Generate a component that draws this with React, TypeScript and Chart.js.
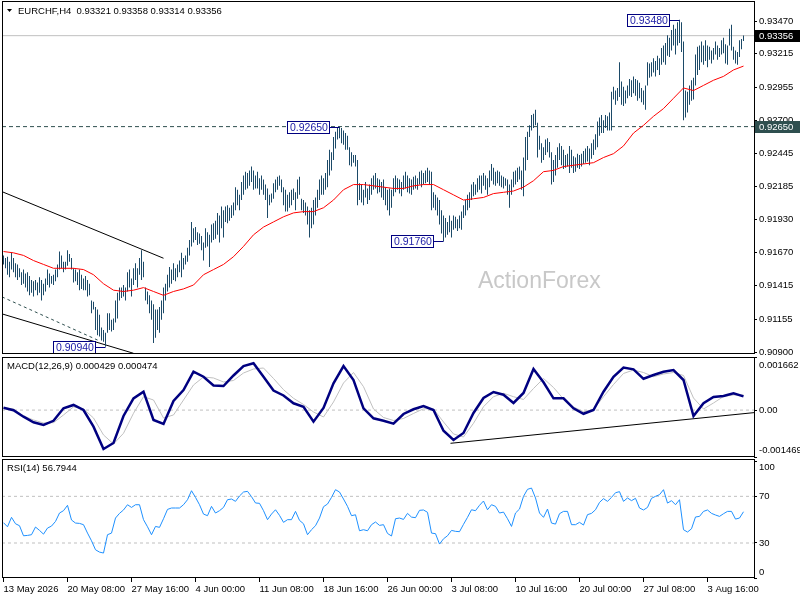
import React, { useEffect, useRef } from 'react';
import { Chart, registerables } from 'chart.js';

Chart.register(...registerables);

const FONT = '"Liberation Sans", Arial, sans-serif';

// ---------------- data ----------------
const SYMBOL = 'EURCHF,H4';
const LAST_BAR = ['0.93321', '0.93358', '0.93314', '0.93356'];
const X_LABELS = ['13 May 2026', '20 May 08:00', '27 May 16:00', '4 Jun 00:00', '11 Jun 08:00', '18 Jun 16:00',
  '26 Jun 00:00', '3 Jul 08:00', '10 Jul 16:00', '20 Jul 00:00', '27 Jul 08:00', '3 Aug 16:00'];
const BARS_PER_LABEL = 32;
const PRICE_TICKS = [0.909, 0.91155, 0.91415, 0.9167, 0.9193, 0.92185, 0.92445, 0.927, 0.92955, 0.93215, 0.9347];

const HIGH = [
  0.9165, 0.9163, 0.9164, 0.9160, 0.9167, 0.9163, 0.9159, 0.9158, 0.9155, 0.9152,
  0.9154, 0.9151, 0.9152, 0.9149, 0.9146, 0.9145, 0.9146, 0.9144, 0.9148, 0.9146,
  0.9143, 0.9147, 0.9154, 0.9151, 0.9149, 0.9150, 0.9154, 0.9158, 0.9168, 0.9165,
  0.9160, 0.9160, 0.9169, 0.9166, 0.9163, 0.9155, 0.9154, 0.9152, 0.9154, 0.9150,
  0.9147, 0.9149, 0.9146, 0.9143, 0.9130, 0.9129, 0.9125, 0.9123, 0.9119, 0.9109,
  0.9107, 0.9105, 0.9120, 0.9120, 0.9115, 0.9116, 0.9130, 0.9136, 0.9140, 0.9140,
  0.9142, 0.9140, 0.9152, 0.9154, 0.9147, 0.9155, 0.9159, 0.9155, 0.9163, 0.9169,
  0.9160, 0.9140, 0.9137, 0.9134, 0.9130, 0.9127, 0.9123, 0.9123, 0.9125, 0.9130,
  0.9140, 0.9143, 0.9150, 0.9156, 0.9154, 0.9159, 0.9155, 0.9158, 0.9161, 0.9167,
  0.9163, 0.9165, 0.9171, 0.9177, 0.9191, 0.9186, 0.9187, 0.9183, 0.9182, 0.9180,
  0.9175, 0.9186, 0.9183, 0.9181, 0.9189, 0.9190, 0.9192, 0.9198, 0.9196, 0.9203,
  0.9200, 0.9203, 0.9204, 0.9202, 0.9204, 0.9206, 0.9218, 0.9216, 0.9212, 0.9222,
  0.9227, 0.9230, 0.9229, 0.9231, 0.9234, 0.9231, 0.9227, 0.9230, 0.9225, 0.9227,
  0.9224, 0.9220, 0.9217, 0.9212, 0.9213, 0.9221, 0.9224, 0.9226, 0.9227, 0.9224,
  0.9218, 0.9216, 0.9212, 0.9214, 0.9216, 0.9217, 0.9214, 0.9224, 0.9226, 0.9209,
  0.9208, 0.9206, 0.9203, 0.9200, 0.9202, 0.9208, 0.9210, 0.9216, 0.9224, 0.9227,
  0.9225, 0.9229, 0.9239, 0.9247, 0.9245, 0.9257, 0.9261, 0.9264, 0.9265, 0.9264,
  0.9262, 0.9260, 0.9258, 0.9249, 0.9245, 0.9243, 0.9243, 0.9239, 0.9221, 0.9220,
  0.9216, 0.9222, 0.9217, 0.9220, 0.9225, 0.9227, 0.9229, 0.9225, 0.9224, 0.9222,
  0.9224, 0.9218, 0.9216, 0.9217, 0.9216, 0.9225, 0.9227, 0.9225, 0.9224, 0.9222,
  0.9227, 0.9230, 0.9227, 0.9225, 0.9224, 0.9226, 0.9227, 0.9225, 0.9230, 0.9231,
  0.9229, 0.9231, 0.9233, 0.9231, 0.9230, 0.9214, 0.9212, 0.9210, 0.9208, 0.9200,
  0.9196, 0.9194, 0.9191, 0.9196, 0.9192, 0.9196, 0.9195, 0.9193, 0.9196, 0.9199,
  0.9204, 0.9208, 0.9212, 0.9214, 0.9220, 0.9222, 0.9220, 0.9225, 0.9227, 0.9227,
  0.9229, 0.9227, 0.9225, 0.9231, 0.9236, 0.9233, 0.9230, 0.9231, 0.9230, 0.9227,
  0.9226, 0.9225, 0.9224, 0.9220, 0.9224, 0.9230, 0.9231, 0.9233, 0.9234, 0.9231,
  0.9241, 0.9257, 0.9261, 0.9266, 0.9274, 0.9275, 0.9278, 0.9268, 0.9258, 0.9252,
  0.9249, 0.9255, 0.9256, 0.9253, 0.9245, 0.9239, 0.9243, 0.9249, 0.9252, 0.9250,
  0.9247, 0.9243, 0.9244, 0.9250, 0.9247, 0.9242, 0.9241, 0.9244, 0.9243, 0.9244,
  0.9246, 0.9248, 0.9250, 0.9248, 0.9252, 0.9255, 0.9259, 0.9269, 0.9272, 0.9274,
  0.9270, 0.9274, 0.9273, 0.9276, 0.9292, 0.9296, 0.9293, 0.9295, 0.9315, 0.9300,
  0.9296, 0.9293, 0.9297, 0.9302, 0.9301, 0.9304, 0.9302, 0.9301, 0.9299, 0.9295,
  0.9293, 0.9297, 0.9315, 0.9314, 0.9315, 0.9318, 0.9316, 0.9320, 0.9318, 0.9326,
  0.9328, 0.9330, 0.9336, 0.9334, 0.9340, 0.9344, 0.9341, 0.9346, 0.9348, 0.9346,
  0.9331, 0.9293, 0.9292, 0.9297, 0.9301, 0.9303, 0.9321, 0.9327, 0.9328, 0.9331,
  0.9328, 0.9332, 0.9328, 0.9327, 0.9324, 0.9326, 0.9331, 0.9328, 0.9326, 0.9332,
  0.9334, 0.9329, 0.9328, 0.9341, 0.9344, 0.9327, 0.9324, 0.9323, 0.9332, 0.9333,
  0.93358,
];

const LOW = [
  0.9158, 0.9155, 0.9150, 0.9148, 0.9154, 0.9152, 0.9148, 0.9146, 0.9148, 0.9142,
  0.9143, 0.9140, 0.9137, 0.9134, 0.9136, 0.9133, 0.9138, 0.9134, 0.9136, 0.9130,
  0.9134, 0.9137, 0.9142, 0.9140, 0.9143, 0.9142, 0.9145, 0.9148, 0.9154, 0.9155,
  0.9152, 0.9154, 0.9157, 0.9160, 0.9154, 0.9144, 0.9145, 0.9142, 0.9138, 0.9139,
  0.9138, 0.9138, 0.9133, 0.9134, 0.9120, 0.9123, 0.9107, 0.9103, 0.9102, 0.9099,
  0.9098, 0.9094, 0.9105, 0.9107, 0.9106, 0.9107, 0.9113, 0.9116, 0.9130, 0.9132,
  0.9133, 0.9130, 0.9137, 0.9140, 0.9133, 0.9142, 0.9146, 0.9140, 0.9150, 0.9146,
  0.9148, 0.9130, 0.9127, 0.9120, 0.9115, 0.9097, 0.9101, 0.9107, 0.9105, 0.9115,
  0.9120, 0.9130, 0.9137, 0.9140, 0.9143, 0.9146, 0.9145, 0.9148, 0.9152, 0.9148,
  0.9154, 0.9158, 0.9160, 0.9165, 0.9172, 0.9175, 0.9177, 0.9173, 0.9174, 0.9169,
  0.9161, 0.9171, 0.9172, 0.9156, 0.9175, 0.9177, 0.9178, 0.9181, 0.9175, 0.9186,
  0.9179, 0.9191, 0.9190, 0.9192, 0.9194, 0.9196, 0.9200, 0.9204, 0.9200, 0.9208,
  0.9212, 0.9216, 0.9217, 0.9219, 0.9222, 0.9216, 0.9217, 0.9217, 0.9212, 0.9216,
  0.9212, 0.9208, 0.9194, 0.9204, 0.9206, 0.9209, 0.9214, 0.9216, 0.9219, 0.9214,
  0.9204, 0.9199, 0.9199, 0.9202, 0.9204, 0.9208, 0.9200, 0.9209, 0.9212, 0.9200,
  0.9198, 0.9196, 0.9189, 0.9179, 0.9186, 0.9189, 0.9196, 0.9202, 0.9208, 0.9212,
  0.9212, 0.9216, 0.9218, 0.9227, 0.9231, 0.9239, 0.9248, 0.9255, 0.9256, 0.9252,
  0.9251, 0.9247, 0.9247, 0.9235, 0.9234, 0.9237, 0.9234, 0.9204, 0.9208, 0.9206,
  0.9204, 0.9210, 0.9205, 0.9208, 0.9212, 0.9216, 0.9217, 0.9213, 0.9214, 0.9210,
  0.9208, 0.9204, 0.9200, 0.9196, 0.9202, 0.9211, 0.9214, 0.9216, 0.9213, 0.9211,
  0.9216, 0.9217, 0.9214, 0.9213, 0.9212, 0.9216, 0.9217, 0.9216, 0.9220, 0.9218,
  0.9220, 0.9221, 0.9222, 0.9220, 0.9200, 0.9202, 0.9200, 0.9196, 0.9189, 0.9182,
  0.9176, 0.9179, 0.9181, 0.9183, 0.9179, 0.9185, 0.9186, 0.9184, 0.9186, 0.9185,
  0.9194, 0.9196, 0.9200, 0.9202, 0.9208, 0.9211, 0.9212, 0.9214, 0.9216, 0.9213,
  0.9219, 0.9216, 0.9212, 0.9218, 0.9223, 0.9220, 0.9219, 0.9221, 0.9219, 0.9218,
  0.9217, 0.9219, 0.9212, 0.9202, 0.9212, 0.9218, 0.9220, 0.9222, 0.9224, 0.9216,
  0.9211, 0.9231, 0.9239, 0.9257, 0.9262, 0.9264, 0.9266, 0.9241, 0.9247, 0.9237,
  0.9239, 0.9243, 0.9245, 0.9241, 0.9220, 0.9222, 0.9227, 0.9233, 0.9239, 0.9235,
  0.9232, 0.9233, 0.9234, 0.9229, 0.9233, 0.9229, 0.9230, 0.9233, 0.9232, 0.9234,
  0.9236, 0.9237, 0.9238, 0.9235, 0.9240, 0.9243, 0.9247, 0.9249, 0.9258, 0.9260,
  0.9260, 0.9264, 0.9262, 0.9262, 0.9262, 0.9286, 0.9282, 0.9285, 0.9288, 0.9282,
  0.9281, 0.9283, 0.9287, 0.9289, 0.9288, 0.9291, 0.9289, 0.9285, 0.9287, 0.9284,
  0.9282, 0.9278, 0.9297, 0.9303, 0.9304, 0.9307, 0.9304, 0.9309, 0.9305, 0.9313,
  0.9315, 0.9313, 0.9320, 0.9319, 0.9324, 0.9328, 0.9321, 0.9328, 0.9330, 0.9323,
  0.9270, 0.9272, 0.9276, 0.9282, 0.9285, 0.9286, 0.9297, 0.9305, 0.9309, 0.9315,
  0.9313, 0.9316, 0.9311, 0.9317, 0.9314, 0.9317, 0.9321, 0.9317, 0.9319, 0.9321,
  0.9322, 0.9314, 0.9313, 0.9328, 0.9324, 0.9317, 0.9314, 0.9313, 0.9319, 0.9325,
  0.93314,
];

const MA_STEP = 5;
const MA = [
  0.9168, 0.9167, 0.9165, 0.9161, 0.9158, 0.9155, 0.9155, 0.9155, 0.9154, 0.9150,
  0.9143, 0.9138, 0.9137, 0.9138, 0.9140, 0.9137, 0.9134, 0.9137, 0.9139, 0.9142,
  0.9150, 0.9154, 0.9158, 0.9164, 0.9172, 0.9181, 0.9187, 0.9191, 0.9195, 0.9198,
  0.9199, 0.9199, 0.9202, 0.9208, 0.9216, 0.9220, 0.9220, 0.9219, 0.9218, 0.9217,
  0.9217, 0.9219, 0.9220, 0.9220, 0.9216, 0.9212, 0.9208, 0.9209, 0.9210, 0.9213,
  0.9214, 0.9215, 0.9218, 0.9223, 0.9230, 0.9231, 0.9234, 0.9235, 0.9236, 0.9237,
  0.9241, 0.9244, 0.9250, 0.9260, 0.9266, 0.9273, 0.9279, 0.9287, 0.9295, 0.9293,
  0.9297, 0.9301, 0.9304, 0.9309, 0.9312,
];

const CURRENT_PRICE = 0.93356;
const RESISTANCE = 0.9265;
const PRICE_LABELS = [
  { bar: 338, price: 0.9348 },
  { bar: 168, price: 0.9265 },
  { bar: 220, price: 0.9176 },
  { bar: 51, price: 0.9094 },
];
const TREND_UPPER = [[-0.75, 0.92145], [80, 0.91628]];
const TREND_LOWER = [[-0.75, 0.91196], [65, 0.9089]];
const TREND_DASHED = [[-0.75, 0.91328], [47, 0.90993]];

const MACD_STEP = 5;
const MACD = [
  0.000075, -0.000006, -0.000207, -0.000382, -0.000466, -0.000335, 0.000056, 0.00016, 0.000003, -0.00052,
  -0.001218, -0.00103, -0.000185, 0.000363, 0.000576, -0.00031, -0.000435, 0.000285, 0.000629, 0.001202,
  0.001045, 0.00077, 0.000754, 0.001083, 0.00138, 0.001465, 0.001045, 0.000613, 0.000457, 0.000213,
  0.000106, -0.000363, 0.000066, 0.000839, 0.00138, 0.000942, 0.000056, -0.000257, -0.000332, -0.000426,
  -0.000122, 0.000025, 0.000128, 0.000003, -0.000645, -0.000936, -0.000717, -0.000091, 0.000379, 0.000567,
  0.000482, 0.000222, 0.000535, 0.001286, 0.00087, 0.000369, 0.000369, 0.000056, -0.000116, 0.000003,
  0.000576, 0.001045, 0.001333, 0.001277, 0.00098, 0.001099, 0.001202, 0.001255, 0.000942, -0.000185,
  0.000213, 0.00041, 0.000441, 0.000526, 0.000429,
];
const MACD_SIGNAL = [
  0.000075, 0.000034, -0.000185, -0.00031, -0.000404, -0.000394, -0.000153, 0.0001, 0.000034, -0.000247,
  -0.000779, -0.001061, -0.000726, -0.0001, 0.000419, 0.000316, -0.000247, -0.000153, 0.000316, 0.000786,
  0.001036, 0.001005, 0.00088, 0.000926, 0.001161, 0.001286, 0.001318, 0.000989, 0.000639, 0.000369,
  0.000175, -0.000059, -0.000216, 0.000254, 0.000848, 0.001177, 0.000732, 0.000034, -0.000232, -0.000326,
  -0.000263, -0.000106, 0.000041, 0.000034, -0.000372, -0.000748, -0.000842, -0.000413, 0.000106, 0.000419,
  0.000526, 0.000419, 0.000332, 0.000676, 0.000989, 0.000707, 0.000347, 0.000097, -0.00005, 0.000019,
  0.000419, 0.000801, 0.001146, 0.001255, 0.001177, 0.001045, 0.00113, 0.001177, 0.001083, 0.000379,
  0.000034, 0.000222, 0.000426, 0.000473, 0.000474,
];
const MACD_TICKS = [-0.001469, 0, 0.001662];
const MACD_TREND = [[223.5, -0.00104], [375.25, -0.00008]];

const RSI_STEP = 2;
const RSI = [
  47.4, 43.9, 52.0, 46.5, 44.8, 36.2, 36.5, 37.1, 43.7, 40.8,
  37.6, 42.8, 44.5, 48.5, 55.7, 57.7, 62.3, 49.7, 47.1, 46.8,
  45.7, 38.5, 31.9, 24.2, 22.2, 21.4, 37.1, 38.5, 51.4, 55.4,
  58.3, 62.8, 60.5, 62.8, 62.8, 50.0, 43.9, 37.1, 44.2, 43.4,
  50.8, 58.8, 60.0, 60.0, 60.0, 62.8, 67.1, 74.8, 69.1, 62.8,
  54.8, 53.4, 61.4, 55.7, 57.7, 60.5, 67.1, 67.7, 65.7, 70.3,
  73.7, 74.3, 69.7, 64.3, 64.0, 57.7, 50.0, 54.8, 58.5, 53.7,
  47.7, 50.0, 50.0, 57.1, 49.4, 46.5, 37.1, 41.4, 44.8, 51.4,
  61.1, 63.4, 69.1, 75.7, 73.7, 67.7, 61.4, 53.4, 54.2, 40.5,
  41.4, 40.5, 45.7, 48.0, 45.1, 45.7, 38.2, 36.0, 50.8, 51.4,
  50.2, 55.4, 52.2, 51.7, 58.0, 58.3, 56.3, 38.5, 38.0, 29.1,
  33.6, 36.2, 40.8, 40.0, 39.7, 46.0, 52.0, 58.5, 57.7, 62.3,
  66.0, 58.5, 62.8, 61.4, 55.7, 56.5, 50.8, 44.2, 55.7, 59.1,
  70.0, 76.0, 77.1, 68.6, 55.7, 52.0, 59.1, 47.1, 46.2, 55.1,
  57.1, 57.1, 45.7, 45.7, 47.7, 45.4, 54.3, 55.4, 58.5, 64.8,
  68.0, 65.7, 69.1, 73.1, 74.0, 65.7, 68.6, 66.3, 68.3, 60.0,
  58.3, 60.5, 68.3, 70.0, 71.4, 75.7, 64.2, 66.3, 62.8, 67.1,
  41.4, 39.4, 42.2, 52.3, 52.8, 57.1, 58.3, 55.4, 54.0, 52.8,
  55.1, 57.1, 57.1, 50.5, 51.4, 56.7944,
];
const RSI_LEVELS = [30, 70];
const RSI_TICKS = [0, 30, 70, 100];

// ---------------- layout ----------------
const X_MIN = -0.75;
const X_MAX = 375.25;
const AXIS_W = 46;
const BAR_COLOR = '#1c4a68';

const pts = (arr: number[], step: number) => arr.map((v, k) => ({ x: k * step, y: v }));
const seg = (p: number[][]) => p.map(([x, y]) => ({ x, y }));
const hline = (v: number) => [{ x: X_MIN, y: v }, { x: X_MAX, y: v }];

const line = (data: any[], color: string, width: number, extra: any = {}) => ({
  type: 'line', data, borderColor: color, borderWidth: width, pointRadius: 0, pointHoverRadius: 0,
  fill: false, tension: 0, ...extra,
});

const hiddenX = () => ({ type: 'linear', min: X_MIN, max: X_MAX, offset: false, display: false });

// MetaTrader draws the window's min/max labels inside the window: shift the edge labels inward.
const insetEdgeLabels = (topShift: number, bottomShift: number) => (s: any) => {
  if (s.__inset) return;
  s.__inset = true;
  const orig = s._computeLabelItems;
  if (typeof orig !== 'function') return;
  s._computeLabelItems = function (ca: any) {
    const items = orig.call(this, ca);
    if (items && items.length > 1) {
      const tr = (it: any) => (it.options && it.options.translation) || it.translation;
      const first = tr(items[0]);
      const last = tr(items[items.length - 1]);
      if (first) first[1] -= bottomShift;
      if (last) last[1] += topShift;
    }
    return items;
  };
};

const yScale = (min: number, max: number, ticks: number[], fmt: (v: number) => string, inset?: number[]) => ({
  type: 'linear', position: 'right', min, max,
  afterBuildTicks: (s: any) => { s.ticks = ticks.map((v) => ({ value: v })); },
  afterFit: (s: any) => { s.width = AXIS_W; s.paddingTop = 0; s.paddingBottom = 0; },
  afterUpdate: inset ? insetEdgeLabels(inset[0], inset[1]) : undefined,
  grid: { display: true, drawOnChartArea: false, drawTicks: true, tickLength: 3, tickColor: '#000', color: '#000' },
  border: { display: false },
  ticks: { autoSkip: false, color: '#000', padding: 2, font: { family: FONT, size: 9.5 }, callback: (v: any) => fmt(Number(v)) },
});

const framePlugin = {
  id: 'frame',
  afterDraw(chart: any) {
    const { ctx, chartArea: a } = chart;
    ctx.save();
    ctx.strokeStyle = '#000';
    ctx.lineWidth = 1;
    ctx.strokeRect(Math.round(a.left) + 0.5, Math.round(a.top) + 0.5, Math.round(a.right - a.left), Math.round(a.bottom - a.top) - 1);
    ctx.restore();
  },
};

const titlePlugin = (id: string, text: string, dx: number, dy: number, arrow = false) => ({
  id,
  afterDraw(chart: any) {
    const { ctx, chartArea: a } = chart;
    ctx.save();
    ctx.font = `9.5px ${FONT}`;
    ctx.fillStyle = '#000';
    ctx.textBaseline = 'middle';
    ctx.textAlign = 'left';
    ctx.fillText(text, a.left + dx, a.top + dy);
    if (arrow) {
      ctx.beginPath();
      ctx.moveTo(a.left + 5, a.top + 8);
      ctx.lineTo(a.left + 10, a.top + 8);
      ctx.lineTo(a.left + 7.5, a.top + 11);
      ctx.closePath();
      ctx.fill();
    }
    ctx.restore();
  },
});

const watermarkPlugin = {
  id: 'watermark',
  beforeDatasetsDraw(chart: any) {
    const { ctx } = chart;
    ctx.save();
    ctx.font = `23px ${FONT}`;
    ctx.fillStyle = '#c8c8c8';
    ctx.textBaseline = 'alphabetic';
    ctx.textAlign = 'left';
    ctx.fillText('ActionForex', 478, 288);
    ctx.restore();
  },
};

const priceLabelPlugin = {
  id: 'priceLabels',
  afterDatasetsDraw(chart: any) {
    const { ctx, scales } = chart;
    const x = scales.x;
    const y = scales.y;
    ctx.save();
    ctx.font = `10.5px ${FONT}`;
    ctx.lineWidth = 1;
    PRICE_LABELS.forEach((p) => {
      const bx = Math.floor(x.getPixelForValue(p.bar)) + 0.5;
      const py = Math.round(y.getPixelForValue(p.price)) + 0.5;
      const text = p.price.toFixed(5);
      const w = Math.round(ctx.measureText(text).width) + 4;
      const right = bx - 10;
      const left = right - w;
      ctx.fillStyle = '#fff';
      ctx.fillRect(left, py - 6, w, 12);
      ctx.strokeStyle = '#000080';
      ctx.strokeRect(left, py - 6, w, 12);
      ctx.beginPath();
      ctx.moveTo(right, py);
      ctx.lineTo(bx, py);
      ctx.stroke();
      ctx.fillStyle = '#1a1aa6';
      ctx.textBaseline = 'middle';
      ctx.textAlign = 'left';
      ctx.fillText(text, left + 2.5, py + 0.5);
    });
    ctx.restore();
  },
};

const axisMarkPlugin = {
  id: 'axisMarks',
  afterDraw(chart: any) {
    const { ctx, chartArea: a, scales } = chart;
    const y = scales.y;
    ctx.save();
    ctx.font = `9.5px ${FONT}`;
    ctx.textBaseline = 'middle';
    ctx.textAlign = 'left';
    [{ price: CURRENT_PRICE, bg: '#000000' }, { price: RESISTANCE, bg: '#2f4f4f' }].forEach((m) => {
      const py = Math.round(y.getPixelForValue(m.price));
      ctx.fillStyle = m.bg;
      ctx.fillRect(a.right + 1, py - 6, AXIS_W - 1, 12);
      ctx.fillStyle = '#fff';
      ctx.fillText(m.price.toFixed(5), a.right + 5, py + 0.5);
    });
    ctx.restore();
  },
};

const baseOptions = (padding: any) => ({
  responsive: false,
  animation: false,
  events: [],
  layout: { padding },
  plugins: { legend: { display: false }, tooltip: { enabled: false } },
});

function mainConfig(): any {
  return {
    type: 'bar',
    data: {
      datasets: [
        line(pts(MA, MA_STEP), '#ff0000', 1, { order: 0 }),
        {
          type: 'bar',
          data: HIGH.map((h, i) => ({ x: i, y: [LOW[i], h] })),
          backgroundColor: BAR_COLOR,
          borderWidth: 0,
          barThickness: 1,
          inflateAmount: 0,
          order: 1,
        },
        line(seg(TREND_UPPER), '#000', 1, { order: 2 }),
        line(seg(TREND_LOWER), '#000', 1, { order: 2 }),
        line(seg(TREND_DASHED), '#2f4f4f', 1, { order: 2, borderDash: [3, 3] }),
        line(hline(CURRENT_PRICE), '#c0c0c0', 1, { order: 3 }),
        line(hline(RESISTANCE), '#2f4f4f', 1, { order: 3, borderDash: [4, 3] }),
      ],
    },
    options: {
      ...baseOptions({ left: 2, top: 1, right: 0, bottom: 8 }),
      scales: {
        x: hiddenX(),
        y: yScale(0.908845, 0.936253, PRICE_TICKS, (v) => v.toFixed(5)),
      },
    },
    plugins: [
      watermarkPlugin,
      priceLabelPlugin,
      framePlugin,
      axisMarkPlugin,
      titlePlugin('mainTitle', `${SYMBOL}  ${LAST_BAR.join(' ')}`, 16, 10, true),
    ],
  };
}

function macdConfig(): any {
  return {
    type: 'line',
    data: {
      datasets: [
        line(pts(MACD, MACD_STEP), '#000080', 2.5, { order: 0 }),
        line(pts(MACD_SIGNAL, MACD_STEP), '#c0c0c0', 1, { order: 1 }),
        line(seg(MACD_TREND), '#000', 1, { order: 2 }),
        line(hline(0), '#c0c0c0', 1, { order: 3, borderDash: [3, 3] }),
      ],
    },
    options: {
      ...baseOptions({ left: 2, top: 9, right: 0, bottom: 11 }),
      scales: {
        x: hiddenX(),
        y: yScale(-0.001469, 0.001662, MACD_TICKS, (v) => (v === 0 ? '0.00' : v.toFixed(6)), [8, 7]),
      },
    },
    plugins: [
      framePlugin,
      titlePlugin('macdTitle', `MACD(12,26,9) ${MACD[MACD.length - 1].toFixed(6)} ${MACD_SIGNAL[MACD_SIGNAL.length - 1].toFixed(6)}`, 5, 9),
    ],
  };
}

function rsiConfig(): any {
  return {
    type: 'line',
    data: {
      datasets: [
        line(pts(RSI, RSI_STEP), '#1e90ff', 1, { order: 0 }),
        ...RSI_LEVELS.map((lv) => line(hline(lv), '#c0c0c0', 1, { order: 1, borderDash: [3, 3] })),
      ],
    },
    options: {
      ...baseOptions({ left: 2, top: 9, right: 0, bottom: 0 }),
      scales: {
        x: {
          type: 'linear', min: X_MIN, max: X_MAX, offset: false, position: 'bottom',
          afterBuildTicks: (s: any) => { s.ticks = X_LABELS.map((_, k) => ({ value: k * BARS_PER_LABEL })); },
          afterFit: (s: any) => { s.height = 22; s.paddingLeft = 0; s.paddingRight = 0; },
          grid: { display: true, drawOnChartArea: false, drawTicks: true, tickLength: 4, tickColor: '#000', color: '#000' },
          border: { display: false },
          ticks: {
            autoSkip: false, maxRotation: 0, minRotation: 0, align: 'start', padding: 2, color: '#000',
            font: { family: FONT, size: 9.5 },
            callback: (_v: any, i: number) => X_LABELS[i],
          },
        },
        y: yScale(0, 102, RSI_TICKS, (v) => String(v), [6, 6]),
      },
    },
    plugins: [
      framePlugin,
      titlePlugin('rsiTitle', `RSI(14) ${RSI[RSI.length - 1].toFixed(4)}`, 5, 9.5),
    ],
  };
}

export default function App() {
  const mainRef = useRef<HTMLCanvasElement | null>(null);
  const macdRef = useRef<HTMLCanvasElement | null>(null);
  const rsiRef = useRef<HTMLCanvasElement | null>(null);

  useEffect(() => {
    const charts = [
      new Chart(mainRef.current as HTMLCanvasElement, mainConfig()),
      new Chart(macdRef.current as HTMLCanvasElement, macdConfig()),
      new Chart(rsiRef.current as HTMLCanvasElement, rsiConfig()),
    ];
    return () => charts.forEach((c) => c.destroy());
  }, []);

  return (
    <div style={{ position: 'fixed', left: 0, top: 0, width: 800, height: 600, background: '#fff', overflow: 'hidden' }}>
      <canvas ref={mainRef} width={800} height={362} style={{ position: 'absolute', left: 0, top: 0 }} />
      <canvas ref={macdRef} width={800} height={120} style={{ position: 'absolute', left: 0, top: 348 }} />
      <canvas ref={rsiRef} width={800} height={150} style={{ position: 'absolute', left: 0, top: 450 }} />
    </div>
  );
}
